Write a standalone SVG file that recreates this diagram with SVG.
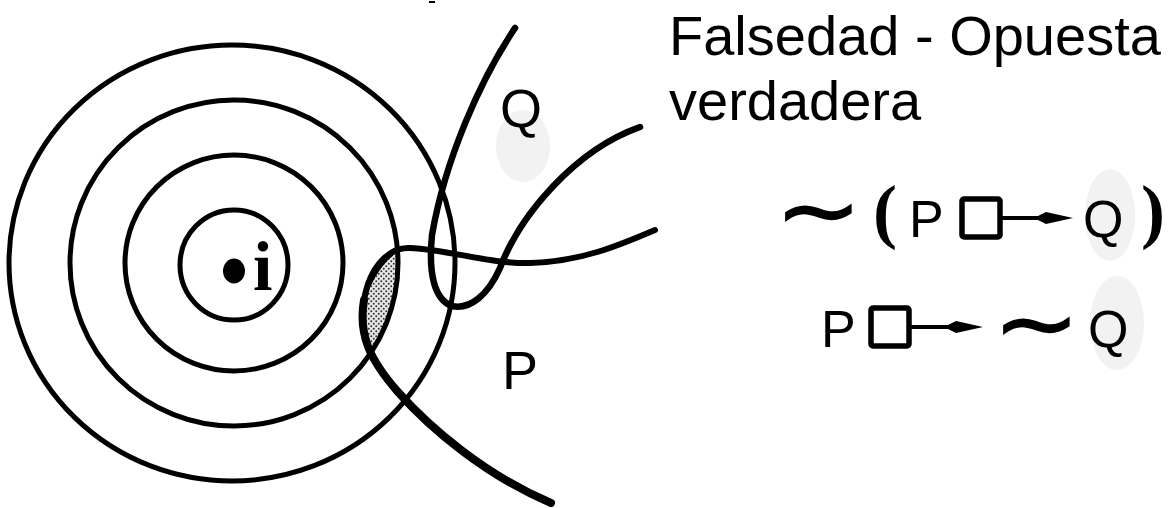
<svg xmlns="http://www.w3.org/2000/svg" width="1173" height="508" viewBox="0 0 1173 508">
<style>
.ring{fill:none;stroke:#000;stroke-width:5}
.curve{fill:none;stroke:#000;stroke-linecap:round;stroke-linejoin:round}
.lbl{font-family:"Liberation Sans",Arial,sans-serif;fill:#000}
.halo{fill:#f2f2f2}
.box{fill:none;stroke:#000;stroke-width:5.5}
.shaft{stroke:#000;stroke-width:4}
.tilde{font-family:"DejaVu Sans",sans-serif;fill:#000;stroke:#000;stroke-width:1.5}
.paren{font-family:"Liberation Serif",serif;font-weight:bold;fill:#000}
</style>
<defs>
<pattern id="dots" width="5" height="5" patternUnits="userSpaceOnUse">
<rect width="5" height="5" fill="#e6e6e6"/>
<circle cx="1.25" cy="1.25" r="1" fill="#333"/>
<circle cx="3.75" cy="3.75" r="1" fill="#333"/>
</pattern>
</defs>
<rect width="1173" height="508" fill="#fff"/>
<rect x="429" y="1" width="6" height="2" fill="#000"/>
<g id="halos">
<ellipse class="halo" cx="523" cy="146" rx="27" ry="36"/>
<ellipse class="halo" cx="1110" cy="215" rx="25" ry="46"/>
<ellipse class="halo" cx="1117" cy="323" rx="27" ry="47"/>
</g>
<g id="shaded-region">
<path d="M396 253 A164 163 0 0 1 374 349 C366 335 360 320 364 300 C367 282 378 262 396 253 Z" fill="url(#dots)"/>
</g>
<g id="circles">
<ellipse class="ring" cx="232" cy="263" rx="223" ry="218"/>
<ellipse class="ring" cx="234" cy="263" rx="164" ry="163"/>
<ellipse class="ring" cx="234" cy="263" rx="109" ry="108"/>
<ellipse class="ring" cx="234" cy="265" rx="54" ry="55"/>
</g>
<g id="world-i">
<ellipse cx="234" cy="271" rx="11" ry="12.5" fill="#000"/>
<text x="253" y="290" font-family="'Liberation Serif',serif" font-weight="bold" font-size="70">i</text>
</g>
<g id="connectors">
<path class="curve" stroke-width="6.5" d="M515 28 C480 80 445 160 432 235 C428 275 435 300 452 306 C470 310 488 295 500 268 C520 215 575 150 640 127"/>
<path class="curve" stroke-width="6" d="M655 230 C620 245 580 262 530 263 C490 264 450 250 410 248 C390 247 370 265 364 300"/>
<path class="curve" stroke-width="8" d="M364 300 C358 335 370 360 398 392 C430 428 485 475 551 503"/>
<path class="curve" stroke-width="3.5" d="M392 254 C378 265 368 285 364 300"/>
</g>
<g id="label-Q"><text class="lbl" x="500" y="127" font-size="54">Q</text></g>
<g id="label-P"><text class="lbl" x="502" y="389" font-size="54">P</text></g>
<g id="title">
<text class="lbl" x="669" y="55" font-size="56">Falsedad - Opuesta</text>
<text class="lbl" x="669" y="120" font-size="56">verdadera</text>
</g>
<g id="formula-1">
<text class="tilde" transform="translate(775 241) scale(1.15 1)" font-size="90">∼</text>
<text class="paren" x="873" y="235" font-size="72">(</text>
<text class="lbl" x="909" y="237" font-size="52">P</text>
<rect class="box" x="962" y="199" width="38" height="38" rx="2"/>
<line class="shaft" x1="1000" y1="218" x2="1045" y2="218"/>
<path d="M1034 218 L1046 212 L1073 218 L1046 224 Z" fill="#000"/>
<text class="lbl" x="1083" y="237" font-size="52">Q</text>
<text class="paren" x="1141" y="235" font-size="72">)</text>
</g>
<g id="formula-2">
<text class="lbl" x="821" y="347" font-size="52">P</text>
<rect class="box" x="871" y="308" width="38" height="38" rx="2"/>
<line class="shaft" x1="909" y1="327" x2="955" y2="327"/>
<path d="M944 327 L956 321 L983 327 L956 333 Z" fill="#000"/>
<text class="tilde" transform="translate(993 354) scale(1.15 1)" font-size="90">∼</text>
<text class="lbl" x="1088" y="347" font-size="52">Q</text>
</g>
</svg>
